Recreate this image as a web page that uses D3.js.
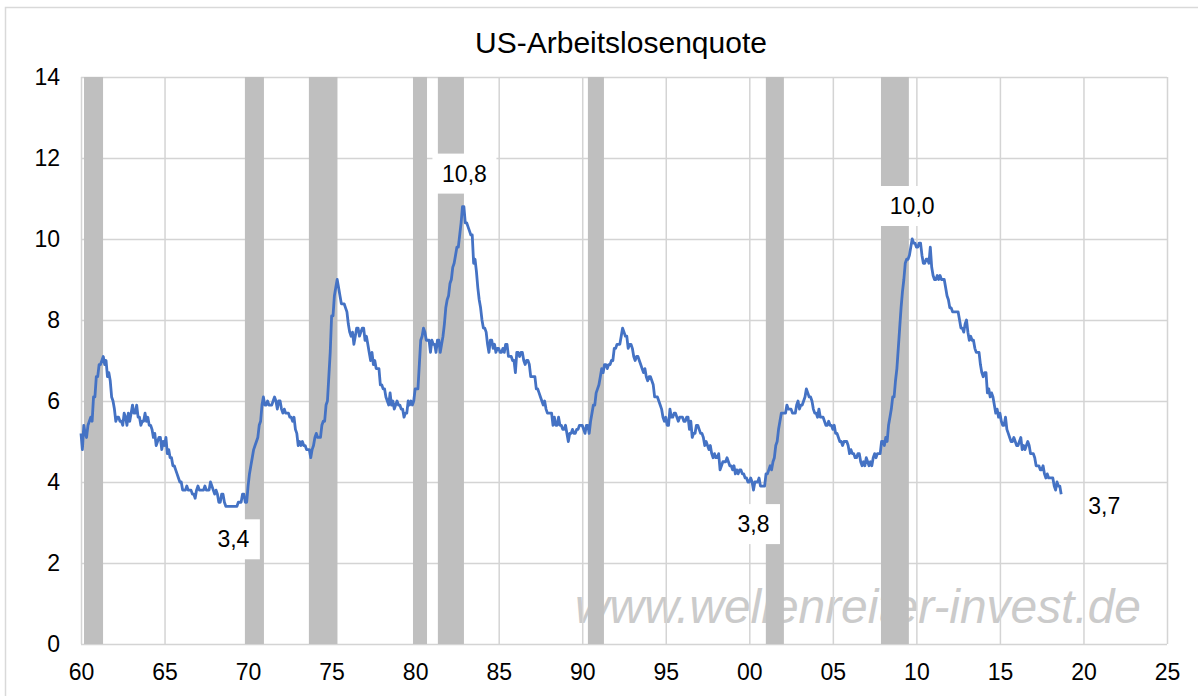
<!DOCTYPE html>
<html>
<head>
<meta charset="utf-8">
<script src="https://cdn.jsdelivr.net/npm/d3@7"></script>
<style>
  html, body { margin: 0; padding: 0; background: #fff; }
  svg { display: block; }
  text { font-family: "Liberation Sans", Arial, sans-serif; }
</style>
</head>
<body>
<svg id="chart" width="1198" height="696"></svg>
<script>
// ---------------- data ----------------
const chartTitle = "US-Arbeitslosenquote";
const watermarkText = "www.wellenreiter-invest.de";
const firstYear = 1960; // monthly series starts January 1960
// US unemployment rate, monthly, %, Jan 1960 – Sep 2018
const unemploymentRate = [
  5.2,4.8,5.4,5.2,5.1,5.4,5.5,5.6,5.5,6.1,6.1,6.6,   // 1960
  6.6,6.9,6.9,7.0,7.1,6.9,7.0,6.6,6.7,6.5,6.1,6.0,   // 1961
  5.8,5.5,5.6,5.6,5.5,5.5,5.4,5.7,5.6,5.4,5.7,5.5,   // 1962
  5.7,5.9,5.7,5.7,5.9,5.6,5.6,5.4,5.5,5.5,5.7,5.5,   // 1963
  5.6,5.4,5.4,5.3,5.1,5.2,4.9,5.0,5.1,5.1,4.8,5.0,   // 1964
  4.9,5.1,4.7,4.8,4.6,4.6,4.4,4.4,4.3,4.2,4.1,4.0,   // 1965
  4.0,3.8,3.8,3.8,3.9,3.8,3.8,3.8,3.7,3.7,3.6,3.8,   // 1966
  3.9,3.8,3.8,3.8,3.8,3.9,3.8,3.8,3.8,4.0,3.9,3.8,   // 1967
  3.7,3.8,3.7,3.5,3.5,3.7,3.7,3.5,3.4,3.4,3.4,3.4,   // 1968
  3.4,3.4,3.4,3.4,3.4,3.5,3.5,3.5,3.7,3.7,3.5,3.5,   // 1969
  3.9,4.2,4.4,4.6,4.8,4.9,5.0,5.1,5.4,5.5,5.9,6.1,   // 1970
  5.9,5.9,6.0,5.9,5.9,5.9,6.0,6.1,6.0,5.8,6.0,6.0,   // 1971
  5.8,5.7,5.8,5.7,5.7,5.7,5.6,5.6,5.5,5.6,5.3,5.2,   // 1972
  4.9,5.0,4.9,5.0,4.9,4.9,4.8,4.8,4.8,4.6,4.8,4.9,   // 1973
  5.1,5.2,5.1,5.1,5.1,5.4,5.5,5.5,5.9,6.0,6.6,7.2,   // 1974
  8.1,8.1,8.6,8.8,9.0,8.8,8.6,8.4,8.4,8.4,8.3,8.2,   // 1975
  7.9,7.7,7.6,7.7,7.4,7.6,7.8,7.8,7.6,7.7,7.8,7.8,   // 1976
  7.5,7.6,7.4,7.2,7.0,7.2,6.9,7.0,6.8,6.8,6.8,6.4,   // 1977
  6.4,6.3,6.3,6.1,6.0,5.9,6.2,5.9,6.0,5.8,5.9,6.0,   // 1978
  5.9,5.9,5.8,5.8,5.6,5.7,5.7,6.0,5.9,6.0,5.9,6.0,   // 1979
  6.3,6.3,6.3,6.9,7.5,7.6,7.8,7.7,7.5,7.5,7.5,7.2,   // 1980
  7.5,7.4,7.4,7.2,7.5,7.5,7.2,7.4,7.6,7.9,8.3,8.5,   // 1981
  8.6,8.9,9.0,9.3,9.4,9.6,9.8,9.8,10.1,10.4,10.8,10.8, // 1982
  10.4,10.4,10.3,10.2,10.1,10.1,9.4,9.5,9.2,8.8,8.5,8.3, // 1983
  8.0,7.8,7.8,7.7,7.4,7.2,7.5,7.5,7.3,7.4,7.2,7.3,   // 1984
  7.3,7.2,7.2,7.3,7.2,7.4,7.4,7.1,7.1,7.1,7.0,7.0,   // 1985
  6.7,7.2,7.2,7.1,7.2,7.2,7.0,6.9,7.0,7.0,6.9,6.6,   // 1986
  6.6,6.6,6.6,6.3,6.3,6.2,6.1,6.0,5.9,6.0,5.8,5.7,   // 1987
  5.7,5.7,5.7,5.4,5.6,5.4,5.4,5.6,5.4,5.4,5.3,5.3,   // 1988
  5.4,5.2,5.0,5.2,5.2,5.3,5.2,5.2,5.3,5.3,5.4,5.4,   // 1989
  5.4,5.3,5.2,5.4,5.4,5.2,5.5,5.7,5.9,5.9,6.2,6.3,   // 1990
  6.4,6.6,6.8,6.7,6.9,6.9,6.8,6.9,6.9,7.0,7.0,7.3,   // 1991
  7.3,7.4,7.4,7.4,7.6,7.8,7.7,7.6,7.6,7.3,7.4,7.4,   // 1992
  7.3,7.1,7.0,7.1,7.1,7.0,6.9,6.8,6.7,6.8,6.6,6.5,   // 1993
  6.6,6.6,6.5,6.4,6.1,6.1,6.1,6.0,5.9,5.8,5.6,5.5,   // 1994
  5.6,5.4,5.4,5.8,5.6,5.6,5.7,5.7,5.6,5.5,5.6,5.6,   // 1995
  5.6,5.5,5.5,5.6,5.6,5.3,5.5,5.1,5.2,5.2,5.4,5.4,   // 1996
  5.3,5.2,5.2,5.1,4.9,5.0,4.9,4.8,4.9,4.7,4.6,4.7,   // 1997
  4.6,4.6,4.7,4.3,4.4,4.5,4.5,4.5,4.6,4.5,4.4,4.4,   // 1998
  4.3,4.4,4.2,4.3,4.2,4.3,4.3,4.2,4.2,4.1,4.1,4.0,   // 1999
  4.0,4.1,4.0,3.8,4.0,4.0,4.0,4.1,3.9,3.9,3.9,3.9,   // 2000
  4.2,4.2,4.3,4.4,4.3,4.5,4.6,4.9,5.0,5.3,5.5,5.7,   // 2001
  5.7,5.7,5.7,5.9,5.8,5.8,5.8,5.7,5.7,5.7,5.9,6.0,   // 2002
  5.8,5.9,5.9,6.0,6.1,6.3,6.2,6.1,6.1,6.0,5.8,5.7,   // 2003
  5.7,5.6,5.8,5.6,5.6,5.6,5.5,5.4,5.4,5.5,5.4,5.4,   // 2004
  5.3,5.4,5.2,5.2,5.1,5.0,5.0,4.9,5.0,5.0,5.0,4.9,   // 2005
  4.7,4.8,4.7,4.7,4.6,4.6,4.7,4.7,4.5,4.4,4.5,4.4,   // 2006
  4.6,4.5,4.4,4.5,4.4,4.6,4.7,4.6,4.7,4.7,4.7,5.0,   // 2007
  5.0,4.9,5.1,5.0,5.4,5.6,5.8,6.1,6.1,6.5,6.8,7.3,   // 2008
  7.8,8.3,8.7,9.0,9.4,9.5,9.5,9.6,9.8,10.0,9.9,9.9,  // 2009
  9.8,9.8,9.9,9.9,9.6,9.4,9.4,9.5,9.5,9.4,9.8,9.3,   // 2010
  9.1,9.0,9.0,9.1,9.0,9.1,9.0,9.0,9.0,8.8,8.6,8.5,   // 2011
  8.3,8.3,8.2,8.2,8.2,8.2,8.2,8.0,7.8,7.8,7.7,7.9,   // 2012
  8.0,7.7,7.5,7.6,7.5,7.5,7.3,7.2,7.2,7.2,6.9,6.7,   // 2013
  6.6,6.7,6.7,6.2,6.3,6.1,6.2,6.1,5.9,5.7,5.8,5.6,   // 2014
  5.7,5.5,5.4,5.4,5.6,5.3,5.2,5.1,5.0,5.0,5.1,5.0,   // 2015
  4.9,4.9,5.0,5.1,4.8,4.9,4.8,4.9,5.0,4.9,4.7,4.7,   // 2016
  4.7,4.6,4.4,4.4,4.4,4.3,4.3,4.4,4.2,4.1,4.2,4.1,   // 2017
  4.1,4.1,4.1,3.9,3.8,4.0,3.9,3.9,3.7                // 2018
];
// recession periods (shaded), decimal years
const recessionStart = [1960.18, 1969.81, 1973.64, 1979.87, 1981.36, 1990.34, 2000.99, 2007.88];
const recessionEnd   = [1961.32, 1970.95, 1975.35, 1980.71, 1982.92, 1991.30, 2002.07, 2009.55];
// annotations: anchor (year, value) and text
const labelYears  = [1969.0, 1982.83, 2009.75, 2000.25, 2018.67];
const labelValues = [3.4, 10.8, 10.0, 3.8, 3.7];
const labelTexts  = ["3,4", "10,8", "10,0", "3,8", "3,7"];
// axes
const xTickYears  = [1960, 1965, 1970, 1975, 1980, 1985, 1990, 1995, 2000, 2005, 2010, 2015, 2020, 2025];
const xTickLabels = ["60", "65", "70", "75", "80", "85", "90", "95", "00", "05", "10", "15", "20", "25"];
const yTicks = [0, 2, 4, 6, 8, 10, 12, 14];

// ---------------- layout ----------------
const svg = d3.select("#chart");
const plot = { left: 81, right: 1167, top: 77, bottom: 644 };
const x = d3.scaleLinear().domain([1960, 2025]).range([plot.left, plot.right]);
const y = d3.scaleLinear().domain([0, 14]).range([plot.bottom, plot.top]);

const gridColor = "#d4d4d4";
const barColor = "#bfbfbf";
const lineColor = "#4472c4";
const fontTick = 23;

// outer frame
svg.append("rect").attr("x", 5.5).attr("y", 7.5).attr("width", 1220).attr("height", 720)
  .attr("fill", "#fff").attr("stroke", "#d9d9d9").attr("stroke-width", 1.5);

// title
svg.append("text").attr("x", 621).attr("y", 53).attr("text-anchor", "middle")
  .attr("font-size", 30).attr("fill", "#000").text(chartTitle);

// watermark (behind grid)
svg.append("text").attr("x", 575).attr("y", 623)
  .attr("font-size", 48).attr("font-style", "italic").attr("fill", "#cbcbcb")
  .attr("textLength", 566).attr("lengthAdjust", "spacingAndGlyphs")
  .text(watermarkText);

// gridlines via axes
const xGrid = d3.axisBottom(x).tickValues(xTickYears).tickSize(-(plot.bottom - plot.top)).tickFormat("");
svg.append("g").attr("transform", `translate(0,${plot.bottom})`).call(xGrid)
  .call(g => g.select(".domain").remove())
  .call(g => g.selectAll("line").attr("stroke", gridColor).attr("stroke-width", 1.5));
const yGrid = d3.axisLeft(y).tickValues(yTicks).tickSize(-(plot.right - plot.left)).tickFormat("");
svg.append("g").attr("transform", `translate(${plot.left},0)`).call(yGrid)
  .call(g => g.select(".domain").remove())
  .call(g => g.selectAll("line").attr("stroke", gridColor).attr("stroke-width", 1.5));

// recession bars
svg.append("g").selectAll("rect").data(recessionStart.map((s, i) => [s, recessionEnd[i]]))
  .join("rect")
  .attr("x", d => x(d[0])).attr("width", d => x(d[1]) - x(d[0]))
  .attr("y", y(14)).attr("height", y(0) - y(14))
  .attr("fill", barColor);

// axis labels
const xAxis = d3.axisBottom(x).tickValues(xTickYears).tickSize(0).tickPadding(0)
  .tickFormat((d, i) => xTickLabels[i]);
svg.append("g").attr("transform", `translate(0,${plot.bottom})`).call(xAxis)
  .call(g => g.select(".domain").remove())
  .call(g => g.selectAll("text").attr("font-size", fontTick).attr("fill", "#000")
    .attr("font-family", "'Liberation Sans', Arial, sans-serif").attr("dy", "1.55em"));
const yAxis = d3.axisLeft(y).tickValues(yTicks).tickSize(0).tickPadding(21);
svg.append("g").attr("transform", `translate(${plot.left},0)`).call(yAxis)
  .call(g => g.select(".domain").remove())
  .call(g => g.selectAll("text").attr("font-size", fontTick).attr("fill", "#000")
    .attr("font-family", "'Liberation Sans', Arial, sans-serif"));

// line
const series = unemploymentRate.map((v, i) => ({ t: firstYear + i / 12, v }));
svg.append("path").datum(series)
  .attr("fill", "none").attr("stroke", lineColor).attr("stroke-width", 2.8)
  .attr("stroke-linejoin", "round")
  .attr("d", d3.line().x(d => x(d.t)).y(d => y(d.v)));

// annotations with white boxes
const labelOffsets = [[2, 33], [2, -33], [0, -33], [0, 34], [43, 12]];
const lg = svg.append("g");
labelTexts.forEach((txt, i) => {
  const cx = x(labelYears[i]) + labelOffsets[i][0];
  const cy = y(labelValues[i]) + labelOffsets[i][1];
  const w = txt.length * 11 + 20;
  if (i < 4) {
    lg.append("rect").attr("x", cx - w / 2).attr("y", cy - 20).attr("width", w).attr("height", 40)
      .attr("fill", "#fff");
  }
  lg.append("text").attr("x", cx).attr("y", cy).attr("dy", "0.35em")
    .attr("text-anchor", "middle").attr("font-size", fontTick).attr("fill", "#000").text(txt);
});
</script>
</body>
</html>
